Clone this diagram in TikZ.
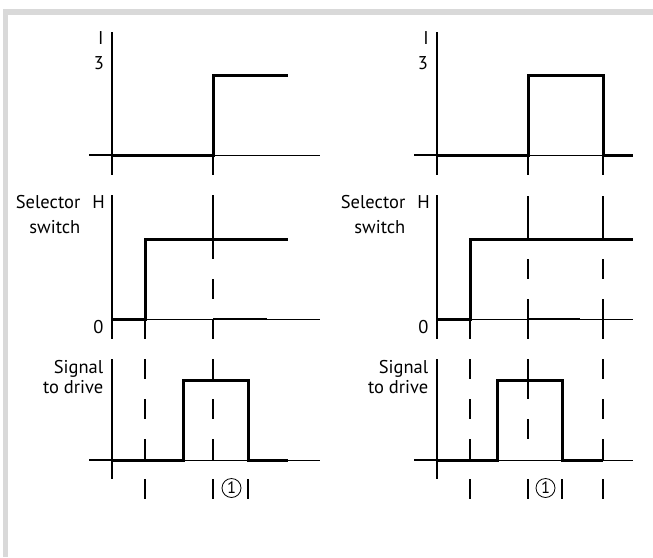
\documentclass[tikz,border=0pt]{standalone}
\usepackage{fontspec}
\setmainfont{PT Sans}
\begin{document}
\begin{tikzpicture}[x=1pt,y=-1pt,
  ax/.style={line width=1.8pt},
  thinax/.style={line width=1pt},
  med/.style={line width=2pt},
  sig/.style={line width=3pt,line join=miter},
  dsh/.style={line width=1.1pt},
  lbl/.style={inner sep=0pt,font=\fontsize{18.5}{22}\selectfont},
  circ/.style={draw,circle,line width=0.8pt,minimum size=19pt,inner sep=0pt,font=\fontsize{16.5}{18}\selectfont}]
\useasboundingbox (0,0) rectangle (653,557);
% grey frame
\fill[gray!30] (3,9) rectangle (653,15);
\fill[gray!30] (3,9) rectangle (8,557);

% ================= LEFT PANEL =================
% top chart
\draw[ax] (112,32) -- (112,175);
\draw[ax] (89,155) -- (112,155);
\draw[thinax] (112,155) -- (320,155);
% middle chart
\draw[ax] (112,195) -- (112,339);
\draw[thinax] (112,319) -- (320,319);
\draw[med] (213,319) -- (267,319);
% bottom chart
\draw[ax] (112,359) -- (112,479);
\draw[ax] (89,460) -- (112,460);
\draw[thinax] (112,460) -- (320,460);
% dashed lines
\foreach \a/\b in {155/175,195/259,279/299,319/339,359/379,399/419,439/460,479/499}
  \draw[dsh] (213,\a) -- (213,\b);
\foreach \a/\b in {319/339,359/379,399/419,439/460}
  \draw[med] (145,\a) -- (145,\b);
\draw[dsh] (145,479) -- (145,499);
\draw[dsh] (248,479) -- (248,499);
% signals
\draw[sig] (112,155) -- (213,155) -- (213,75) -- (288,75);
\draw[sig] (112,319) -- (145,319) -- (145,239) -- (288,239);
\draw[sig] (112,460) -- (183,460) -- (183,380) -- (248,380) -- (248,460) -- (288,460);
% labels
\node[lbl,anchor=base] (lI) at (100.7,44) {I};
\node[lbl,anchor=base] (l3) at (98.8,69) {3};
\node[lbl,anchor=base east] (lsel) at (80.5,208) {Selector};
\node[lbl,anchor=base] (lH) at (98.5,208) {H};
\node[lbl,anchor=base east] (lsw) at (80.5,233) {switch};
\node[lbl,anchor=base] (l0) at (98.5,333) {0};
\node[lbl,anchor=base east] (lsig) at (103.5,373) {Signal};
\node[lbl,anchor=base east] (ldr) at (103.5,393) {to drive};
\node[circ] (lc) at (231.5,488) {1};

% ================= RIGHT PANEL =================
% top chart
\draw[ax] (437,32) -- (437,175);
\draw[ax] (414,155) -- (437,155);
\draw[thinax] (437,155) -- (633,155);
% middle chart
\draw[ax] (437,195) -- (437,339);
\draw[thinax] (437,319) -- (633,319);
\draw[med] (528,319) -- (580,319);
% bottom chart
\draw[ax] (437,359) -- (437,479);
\draw[ax] (414,460) -- (437,460);
\draw[thinax] (437,460) -- (633,460);
% dashed lines
\foreach \a/\b in {155/175,196/239,259/279,299/339,359/399,419/439,479/499}
  \draw[dsh] (528,\a) -- (528,\b);
\foreach \a/\b in {155/175,196/239,259/279,299/339,359/379,399/419,439/460,479/499}
  \draw[dsh] (603,\a) -- (603,\b);
\foreach \a/\b in {319/339,359/379,399/419,439/460}
  \draw[med] (470,\a) -- (470,\b);
\draw[dsh] (470,479) -- (470,499);
\draw[dsh] (562,479) -- (562,499);
% signals
\draw[sig] (437,155) -- (528,155) -- (528,75) -- (603,75) -- (603,155) -- (633,155);
\draw[sig] (437,319) -- (470,319) -- (470,239) -- (633,239);
\draw[sig] (437,460) -- (497,460) -- (497,380) -- (562,380) -- (562,460) -- (603,460);
% labels
\node[lbl,anchor=base] (rI) at (426,44) {I};
\node[lbl,anchor=base] (r3) at (423,69) {3};
\node[lbl,anchor=base east] (rsel) at (405.5,208) {Selector};
\node[lbl,anchor=base] (rH) at (423.5,208) {H};
\node[lbl,anchor=base east] (rsw) at (405.5,233) {switch};
\node[lbl,anchor=base] (r0) at (423.5,333) {0};
\node[lbl,anchor=base east] (rsig) at (428.5,373) {Signal};
\node[lbl,anchor=base east] (rdr) at (428.5,393) {to drive};
\node[circ] (rc) at (545.5,488) {1};
\end{tikzpicture}
\end{document}
